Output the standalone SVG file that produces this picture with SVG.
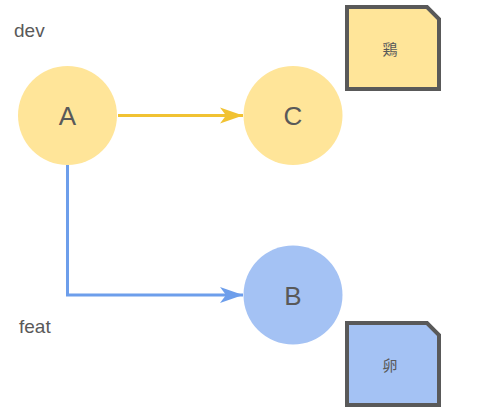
<svg xmlns="http://www.w3.org/2000/svg" width="480" height="413" viewBox="0 0 480 413">
<style>
.lbl{font-family:"Liberation Sans",Arial,sans-serif;fill:#595959}
.node{font-size:26px;text-anchor:middle}
.cjk{font-family:"Liberation Sans","Noto Sans CJK JP",sans-serif;font-size:15px;fill:#595959;text-anchor:middle}
.note{stroke:#595959;stroke-width:4;stroke-linejoin:miter}
</style>
<defs>
<marker id="ay" markerWidth="24" markerHeight="18" refX="23" refY="9" orient="auto" markerUnits="userSpaceOnUse">
<path d="M0,1 L23,9 L0,17 L6,9 Z" fill="#F1C232"/>
</marker>
<marker id="ab" markerWidth="24" markerHeight="18" refX="23" refY="9" orient="auto" markerUnits="userSpaceOnUse">
<path d="M0,1 L23,9 L0,17 L6,9 Z" fill="#6D9EEB"/>
</marker>
</defs>
<text class="lbl" x="14" y="37" font-size="19">dev</text>
<text class="lbl" x="19" y="333" font-size="19">feat</text>
<g id="connectors">
<path d="M118,115.5 L243,115.5" stroke="#F1C232" stroke-width="3" fill="none" marker-end="url(#ay)"/>
<path d="M67.5,165 L67.5,295 L243,295" stroke="#6D9EEB" stroke-width="3" fill="none" marker-end="url(#ab)"/>
</g>
<g id="A">
<circle cx="67.5" cy="115.5" r="49.5" fill="#FFE599"/>
<text class="lbl node" x="67.5" y="125">A</text>
</g>
<g id="C">
<circle cx="293" cy="115.5" r="49.5" fill="#FFE599"/>
<text class="lbl node" x="293" y="125">C</text>
</g>
<g id="B">
<circle cx="293" cy="295" r="49.5" fill="#A4C2F4"/>
<text class="lbl node" x="293" y="304.5">B</text>
</g>
<g id="note1">
<path class="note" d="M347,7 L427,7 L439,19 L439,89 L347,89 Z" fill="#FFE599"/>
<text class="cjk" x="390" y="55">鶏</text>
</g>
<g id="note2">
<path class="note" d="M347,323 L427,323 L439,335 L439,405 L347,405 Z" fill="#A4C2F4"/>
<text class="cjk" x="390" y="371">卵</text>
</g>
</svg>
